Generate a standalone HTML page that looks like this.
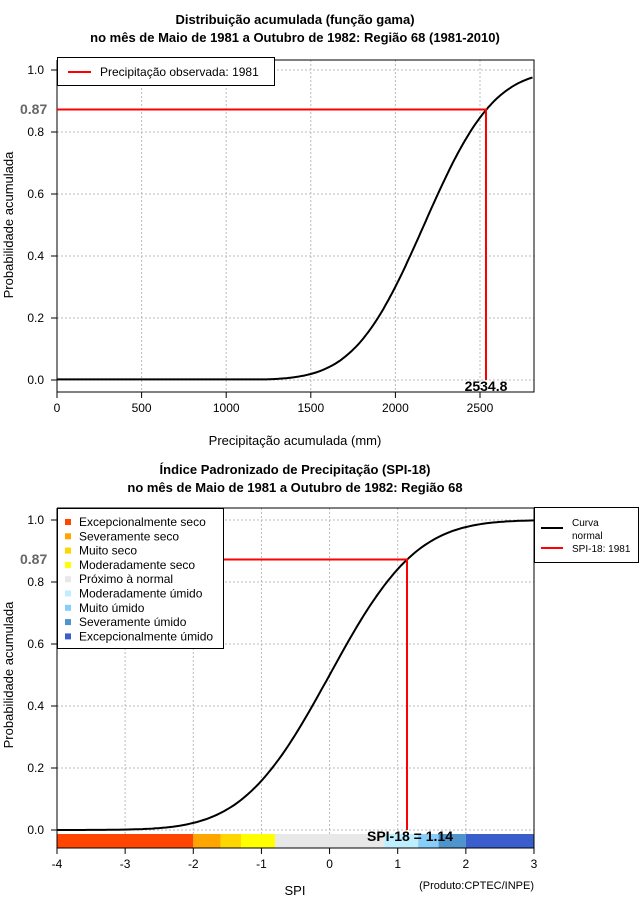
<!DOCTYPE html>
<html><head><meta charset="utf-8"><style>
body{margin:0;background:#fff;width:640px;height:900px;overflow:hidden}
svg{font-family:"Liberation Sans",sans-serif}
</style></head><body>
<svg id="s" width="640" height="900" xmlns="http://www.w3.org/2000/svg">
<rect width="640" height="900" fill="#fff"/>
<g font-weight="bold" font-size="13" text-anchor="middle" fill="#000">
<text x="295" y="24">Distribuição acumulada (função gama)</text>
<text x="295" y="42">no mês de Maio de 1981 a Outubro de 1982: Região 68 (1981-2010)</text>
<text x="295" y="474">Índice Padronizado de Precipitação (SPI-18)</text>
<text x="295" y="492">no mês de Maio de 1981 a Outubro de 1982: Região 68</text>
</g>
<g id="g1"></g><g id="g2"></g>
</svg>
<script>
function erf(x){var s=x<0?-1:1;x=Math.abs(x);var t=1/(1+0.3275911*x);var y=1-(((((1.061405429*t-1.453152027)*t)+1.421413741)*t-0.284496736)*t+0.254829592)*t*Math.exp(-x*x);return s*y;}
function Phi(z){return 0.5*(1+erf(z/Math.SQRT2));}
var NS="http://www.w3.org/2000/svg";
function add(g,tag,a,txt){var e=document.createElementNS(NS,tag);for(var k in a)e.setAttribute(k,a[k]);if(txt!=null)e.textContent=txt;g.appendChild(e);return e;}
var g=document.getElementById('g1');
var X0=57,X1=534,T=60,B=392;
function px(v){return 57+v*0.1692;} function py(p){return 380-p*310;}
[0,500,1000,1500,2000,2500].forEach(function(v){add(g,'line',{x1:px(v),x2:px(v),y1:T,y2:B,stroke:'#bbb','stroke-dasharray':'2,2'});add(g,'line',{x1:px(v),x2:px(v),y1:B,y2:B+6,stroke:'#000'});add(g,'text',{x:px(v),y:B+20,'font-size':'12','text-anchor':'middle'},v);});
[0,0.2,0.4,0.6,0.8,1].forEach(function(p){add(g,'line',{x1:X0,x2:X1,y1:py(p),y2:py(p),stroke:'#bbb','stroke-dasharray':'2,2'});add(g,'line',{x1:X0-6,x2:X0,y1:py(p),y2:py(p),stroke:'#000'});add(g,'text',{x:44,y:py(p)+4,'font-size':'12','text-anchor':'end'},p.toFixed(1));});
add(g,'path',{d:'M'+X0+' '+T+'V'+B+'H'+X1+'V'+T+'H'+X0,fill:'none',stroke:'#000'});
var d='';for(var v=0;v<=2819;v+=10){var p=Math.max(0.002,Phi((v-2169)/324));d+=(v?'L':'M')+px(v).toFixed(1)+' '+py(p).toFixed(1);}
add(g,'path',{d:d,fill:'none',stroke:'#000','stroke-width':2});
add(g,'path',{d:'M'+X0+' 109.5H486V380',fill:'none',stroke:'#f00','stroke-width':2});
add(g,'text',{x:20,y:114,'font-size':'14','font-weight':'bold',fill:'#666'},'0.87');
add(g,'text',{x:486,y:391,'font-size':'14','font-weight':'bold','text-anchor':'middle'},'2534.8');
add(g,'rect',{x:57.5,y:57.5,width:217,height:28,fill:'#fff',stroke:'#000'});
add(g,'line',{x1:68,x2:91,y1:72,y2:72,stroke:'#f00','stroke-width':2});
add(g,'text',{x:100,y:76,'font-size':'12'},'Precipitação observada: 1981');
add(g,'text',{x:295,y:445,'font-size':'13','text-anchor':'middle'},'Precipitação acumulada (mm)');
add(g,'text',{x:0,y:0,'font-size':'13','text-anchor':'middle',transform:'translate(13,225) rotate(-90)'},'Probabilidade acumulada');
g=document.getElementById('g2');
T=508;B=848;
function sx(v){return 57+(v+4)*68.14;} function sy(p){return 830-p*310;}
[-4,-3,-2,-1,0,1,2,3].forEach(function(v){add(g,'line',{x1:sx(v),x2:sx(v),y1:T,y2:B,stroke:'#bbb','stroke-dasharray':'2,2'});add(g,'line',{x1:sx(v),x2:sx(v),y1:B,y2:B+6,stroke:'#000'});add(g,'text',{x:sx(v),y:B+20,'font-size':'12','text-anchor':'middle'},v);});
[0,0.2,0.4,0.6,0.8,1].forEach(function(p){add(g,'line',{x1:X0,x2:X1,y1:sy(p),y2:sy(p),stroke:'#bbb','stroke-dasharray':'2,2'});add(g,'line',{x1:X0-6,x2:X0,y1:sy(p),y2:sy(p),stroke:'#000'});add(g,'text',{x:44,y:sy(p)+4,'font-size':'12','text-anchor':'end'},p.toFixed(1));});
var segs=[[-4,-2,'#ff4500'],[-2,-1.6,'#ffa500'],[-1.6,-1.3,'#ffd700'],[-1.3,-0.8,'#ffff00'],[-0.8,0.8,'#e8e8e8'],[0.8,1.3,'#bfefff'],[1.3,1.6,'#87cefa'],[1.6,2,'#4f94cd'],[2,3,'#3a5fcd']];
segs.forEach(function(s){add(g,'rect',{x:sx(s[0]),y:834,width:sx(s[1])-sx(s[0]),height:14,fill:s[2]});});
d='';for(var v=-4;v<=3.001;v+=0.05){d+=(v>-4?'L':'M')+sx(v).toFixed(1)+' '+sy(Phi(v)).toFixed(1);}
add(g,'path',{d:d,fill:'none',stroke:'#000','stroke-width':2});
add(g,'path',{d:'M'+X0+' 559.5H407V830',fill:'none',stroke:'#f00','stroke-width':2});
add(g,'path',{d:'M'+X0+' '+T+'V'+B+'H'+X1+'V'+T+'H'+X0,fill:'none',stroke:'#000'});
add(g,'text',{x:20,y:564,'font-size':'14','font-weight':'bold',fill:'#666'},'0.87');
add(g,'text',{x:410,y:841,'font-size':'14','font-weight':'bold','text-anchor':'middle'},'SPI-18 = 1.14');
add(g,'rect',{x:57.5,y:508.5,width:166,height:140,fill:'#fff',stroke:'#000'});
var L=[['Excepcionalmente seco','#ff4500'],['Severamente seco','#ffa500'],['Muito seco','#ffd700'],['Moderadamente seco','#ffff00'],['Próximo à normal','#e8e8e8'],['Moderadamente úmido','#bfefff'],['Muito úmido','#87cefa'],['Severamente úmido','#4f94cd'],['Excepcionalmente úmido','#3a5fcd']];
L.forEach(function(l,i){var y=522+i*14.3;add(g,'rect',{x:65,y:y-3,width:6,height:6,fill:l[1]});add(g,'text',{x:79,y:y+4,'font-size':'12'},l[0]);});
add(g,'rect',{x:534.5,y:507.5,width:104,height:55,fill:'#fff',stroke:'#000'});
add(g,'line',{x1:541,x2:563,y1:528,y2:528,stroke:'#000','stroke-width':2});
add(g,'line',{x1:541,x2:563,y1:548,y2:548,stroke:'#f00','stroke-width':2});
add(g,'text',{x:572,y:526,'font-size':'10'},'Curva');
add(g,'text',{x:572,y:539,'font-size':'10'},'normal');
add(g,'text',{x:572,y:552,'font-size':'10'},'SPI-18: 1981');
add(g,'text',{x:295,y:895,'font-size':'13','text-anchor':'middle'},'SPI');
add(g,'text',{x:534,y:889,'font-size':'11','text-anchor':'end'},'(Produto:CPTEC/INPE)');
add(g,'text',{x:0,y:0,'font-size':'13','text-anchor':'middle',transform:'translate(13,675) rotate(-90)'},'Probabilidade acumulada');
</script>
</body></html>
